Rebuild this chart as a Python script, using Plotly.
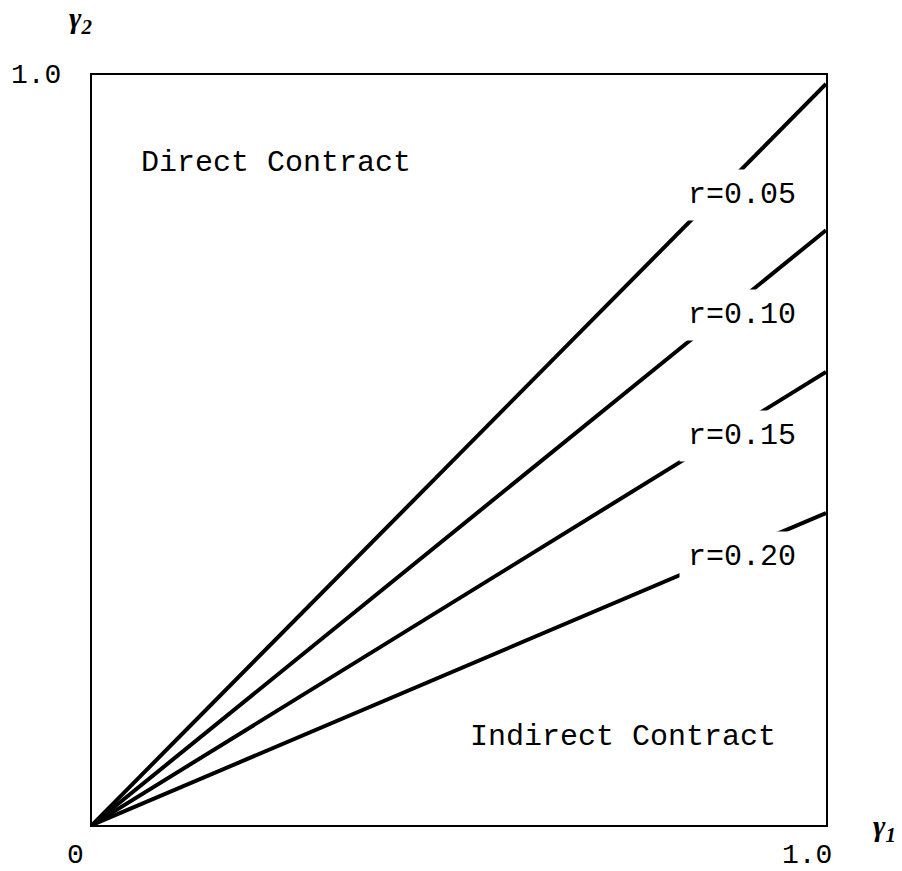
import plotly.graph_objects as go

# Data
gamma1 = [0.0, 1.0]
r_labels = ["r=0.05", "r=0.10", "r=0.15", "r=0.20"]
slopes = [0.988, 0.793, 0.604, 0.416]          # gamma2 value at gamma1 = 1.0
label_x = [0.886, 0.886, 0.886, 0.886]
label_y = [0.84, 0.68, 0.519, 0.357]

region_text = ["Direct Contract", "Indirect Contract"]
region_x = [0.251, 0.724]
region_y = [0.883, 0.117]

MONO = "Liberation Mono, Courier New, monospace"
SERIF = "Liberation Serif, Times New Roman, serif"

fig = go.Figure()
for s in slopes:
    fig.add_trace(go.Scatter(
        x=gamma1, y=[g * s for g in gamma1], mode="lines",
        line=dict(color="black", width=4), showlegend=False, hoverinfo="skip",
        cliponaxis=False))

for t, x, y in zip(r_labels, label_x, label_y):
    fig.add_annotation(x=x, y=y, xref="x", yref="y", text=t, showarrow=False,
                       font=dict(family=MONO, size=30, color="black"),
                       bgcolor="white", borderpad=8, xanchor="center", yanchor="middle")

for t, x, y in zip(region_text, region_x, region_y):
    fig.add_annotation(x=x, y=y, xref="x", yref="y", text=t, showarrow=False,
                       font=dict(family=MONO, size=30, color="black"),
                       xanchor="center", yanchor="middle")

# axis tick labels / titles
fig.add_annotation(x=0, y=1, xref="x", yref="y", text="1.0", showarrow=False,
                   font=dict(family=MONO, size=28, color="black"),
                   xanchor="right", yanchor="middle", xshift=-29)
fig.add_annotation(x=0, y=0, xref="x", yref="y", text="0", showarrow=False,
                   font=dict(family=MONO, size=28, color="black"),
                   xanchor="center", yanchor="middle", xshift=-17, yshift=-30)
fig.add_annotation(x=1, y=0, xref="x", yref="y", text="1.0", showarrow=False,
                   font=dict(family=MONO, size=28, color="black"),
                   xanchor="center", yanchor="middle", xshift=-19, yshift=-30)
fig.add_annotation(x=0, y=1, xref="x", yref="y", text="<b><i>γ</i><sub><i>2</i></sub></b>",
                   showarrow=False, font=dict(family=SERIF, size=30, color="black"),
                   xanchor="center", yanchor="middle", xshift=-12, yshift=55)
fig.add_annotation(x=1, y=0, xref="x", yref="y", text="<b><i>γ</i><sub><i>1</i></sub></b>",
                   showarrow=False, font=dict(family=SERIF, size=30, color="black"),
                   xanchor="center", yanchor="middle", xshift=58, yshift=-3)

axis_common = dict(range=[0, 1], showgrid=False, zeroline=False, showticklabels=False,
                   ticks="", showline=True, linecolor="black", linewidth=2, mirror=True,
                   fixedrange=True)
fig.update_layout(
    width=902, height=871,
    margin=dict(l=92, r=76, t=75, b=46),
    paper_bgcolor="white", plot_bgcolor="white",
    xaxis=axis_common, yaxis=axis_common,
    showlegend=False,
)
fig.write_html("out.html", config={"displayModeBar": False},
               post_script="document.body.style.margin='0';document.body.style.overflow='hidden';")
